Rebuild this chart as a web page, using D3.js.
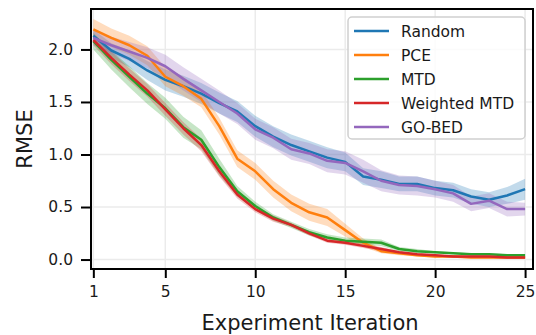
<!DOCTYPE html>
<html>
<head>
<meta charset="utf-8">
<script src="https://cdn.jsdelivr.net/npm/d3@7"></script>
<style>
  body { margin: 0; background: #fff; }
  svg text { font-family: "DejaVu Sans", sans-serif; fill: #1a1a1a; }
</style>
</head>
<body>
<svg id="chart" width="536" height="335"></svg>
<script>
// Experiment iterations (x)
const iterations = d3.range(1, 26);

// mean RMSE per method
const randomMean = [2.13, 1.99, 1.91, 1.80, 1.71, 1.65, 1.58, 1.49, 1.41, 1.27, 1.17, 1.09, 1.03, 0.97, 0.93, 0.79, 0.76, 0.72, 0.72, 0.68, 0.66, 0.60, 0.57, 0.61, 0.67];
const pceMean = [2.19, 2.11, 2.04, 1.94, 1.74, 1.65, 1.53, 1.27, 0.96, 0.84, 0.67, 0.54, 0.45, 0.40, 0.28, 0.16, 0.08, 0.06, 0.04, 0.03, 0.03, 0.02, 0.02, 0.02, 0.02];
const mtdMean = [2.08, 1.90, 1.74, 1.58, 1.44, 1.26, 1.14, 0.88, 0.65, 0.51, 0.40, 0.33, 0.26, 0.21, 0.18, 0.17, 0.16, 0.10, 0.08, 0.07, 0.06, 0.05, 0.05, 0.04, 0.04];
const weightedMean = [2.09, 1.92, 1.76, 1.61, 1.43, 1.25, 1.09, 0.84, 0.62, 0.48, 0.39, 0.33, 0.25, 0.18, 0.16, 0.13, 0.10, 0.07, 0.05, 0.04, 0.03, 0.03, 0.03, 0.02, 0.02];
const gobedMean = [2.11, 2.04, 1.98, 1.92, 1.84, 1.72, 1.61, 1.50, 1.39, 1.24, 1.16, 1.05, 1.01, 0.94, 0.92, 0.84, 0.75, 0.71, 0.70, 0.67, 0.63, 0.53, 0.56, 0.48, 0.48];

// half-width of the shaded band
const randomSpread = [0.06, 0.07, 0.08, 0.09, 0.10, 0.10, 0.10, 0.10, 0.10, 0.10, 0.10, 0.10, 0.10, 0.10, 0.09, 0.08, 0.08, 0.07, 0.07, 0.07, 0.07, 0.07, 0.07, 0.08, 0.10];
const pceSpread = [0.10, 0.09, 0.09, 0.09, 0.09, 0.09, 0.08, 0.08, 0.08, 0.08, 0.08, 0.08, 0.08, 0.08, 0.06, 0.04, 0.02, 0.02, 0.01, 0.01, 0.01, 0.01, 0.01, 0.01, 0.01];
const mtdSpread = [0.08, 0.09, 0.10, 0.10, 0.10, 0.10, 0.09, 0.08, 0.05, 0.04, 0.03, 0.03, 0.03, 0.03, 0.03, 0.03, 0.03, 0.02, 0.02, 0.01, 0.01, 0.01, 0.01, 0.01, 0.01];
const weightedSpread = [0.05, 0.06, 0.06, 0.06, 0.06, 0.06, 0.06, 0.05, 0.04, 0.03, 0.03, 0.02, 0.02, 0.02, 0.02, 0.02, 0.02, 0.01, 0.01, 0.01, 0.01, 0.01, 0.01, 0.01, 0.01];
const gobedSpread = [0.07, 0.08, 0.09, 0.10, 0.11, 0.11, 0.11, 0.11, 0.10, 0.10, 0.10, 0.10, 0.10, 0.11, 0.11, 0.11, 0.10, 0.09, 0.09, 0.08, 0.08, 0.07, 0.07, 0.07, 0.06];

const seriesNames = ['Random', 'PCE', 'MTD', 'Weighted MTD', 'GO-BED'];
const seriesColors = ['#1f77b4', '#ff7f0e', '#2ca02c', '#d62728', '#9467bd'];

const xTicks = [1, 5, 10, 15, 20, 25];
const yTicks = [0, 0.5, 1.0, 1.5, 2.0];

const series = [
  { name: seriesNames[0], color: seriesColors[0], mean: randomMean, spread: randomSpread },
  { name: seriesNames[1], color: seriesColors[1], mean: pceMean, spread: pceSpread },
  { name: seriesNames[2], color: seriesColors[2], mean: mtdMean, spread: mtdSpread },
  { name: seriesNames[3], color: seriesColors[3], mean: weightedMean, spread: weightedSpread },
  { name: seriesNames[4], color: seriesColors[4], mean: gobedMean, spread: gobedSpread }
];

const svg = d3.select('#chart');
const plot = { left: 91, right: 533, top: 9, bottom: 269 };

const x = d3.scaleLinear().domain([0.87, 25.44]).range([plot.left, plot.right]);
const y = d3.scaleLinear().domain([-0.09, 2.385]).range([plot.bottom, plot.top]);

// grid
const grid = svg.append('g').attr('class', 'grid');
grid.selectAll('line.gx').data(xTicks).enter().append('line')
  .attr('x1', d => x(d)).attr('x2', d => x(d))
  .attr('y1', plot.top).attr('y2', plot.bottom)
  .attr('stroke', '#ebebeb').attr('stroke-width', 1.5);
grid.selectAll('line.gy').data(yTicks).enter().append('line')
  .attr('x1', plot.left).attr('x2', plot.right)
  .attr('y1', d => y(d)).attr('y2', d => y(d))
  .attr('stroke', '#ebebeb').attr('stroke-width', 1.5);

// bands then lines
const content = svg.append('g');
const area = d3.area()
  .x((d, i) => x(iterations[i]))
  .y0(d => y(d[0] - d[1]))
  .y1(d => y(d[0] + d[1]));
const line = d3.line()
  .x((d, i) => x(iterations[i]))
  .y(d => y(d));

series.forEach(s => {
  content.append('path')
    .datum(s.mean.map((m, i) => [m, s.spread[i]]))
    .attr('d', area)
    .attr('fill', s.color)
    .attr('fill-opacity', 0.27)
    .attr('stroke', 'none');
});
series.forEach(s => {
  content.append('path')
    .datum(s.mean)
    .attr('d', line)
    .attr('fill', 'none')
    .attr('stroke', s.color)
    .attr('stroke-width', 2.5)
    .attr('stroke-linejoin', 'round');
});

// axes
const xAxis = svg.append('g')
  .attr('transform', `translate(0,${plot.bottom})`)
  .call(d3.axisBottom(x).tickValues(xTicks).tickFormat(d3.format('d')).tickSize(9).tickPadding(8));
const yAxis = svg.append('g')
  .attr('transform', `translate(${plot.left},0)`)
  .call(d3.axisLeft(y).tickValues(yTicks).tickFormat(d3.format('.1f')).tickSize(10).tickPadding(8));

[xAxis, yAxis].forEach(ax => {
  ax.select('.domain').remove();
  ax.selectAll('.tick line').attr('stroke', '#000').attr('stroke-width', 2);
  ax.selectAll('.tick text').attr('font-size', 15.5).attr('font-family', '"DejaVu Sans", sans-serif').attr('fill', '#1a1a1a');
});

// spines
svg.append('rect')
  .attr('x', plot.left).attr('y', plot.top)
  .attr('width', plot.right - plot.left).attr('height', plot.bottom - plot.top)
  .attr('fill', 'none').attr('stroke', '#000').attr('stroke-width', 2);

// axis labels
svg.append('text')
  .attr('x', (plot.left + plot.right) / 2 - 2).attr('y', 330)
  .attr('text-anchor', 'middle').attr('font-size', 21)
  .text('Experiment Iteration');
svg.append('text')
  .attr('transform', `translate(32,${(plot.top + plot.bottom) / 2}) rotate(-90)`)
  .attr('text-anchor', 'middle').attr('font-size', 21)
  .text('RMSE');

// legend
const legend = svg.append('g').attr('transform', 'translate(348,17)');
legend.append('rect')
  .attr('width', 177).attr('height', 122).attr('rx', 4)
  .attr('fill', '#fff').attr('fill-opacity', 0.8)
  .attr('stroke', '#d0d0d0').attr('stroke-width', 1.5);
series.forEach((s, i) => {
  const g = legend.append('g').attr('transform', `translate(0,${14 + i * 24})`);
  g.append('line').attr('x1', 6).attr('x2', 41).attr('stroke', s.color).attr('stroke-width', 2.5);
  g.append('text').attr('x', 53).attr('y', 5.5).attr('font-size', 15.5).text(s.name);
});
</script>
</body>
</html>
